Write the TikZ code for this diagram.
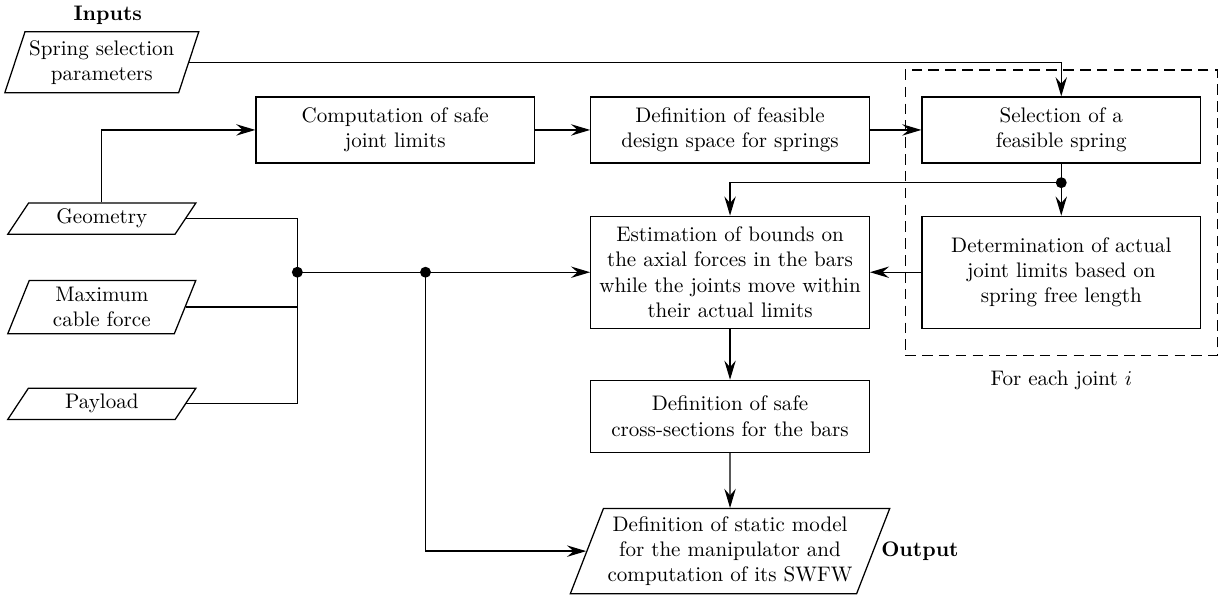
\documentclass[tikz,border=0pt]{standalone}
\usetikzlibrary{arrows.meta, positioning, fit, shapes.geometric, calc}
\tikzset{
  blk/.style={rectangle, draw, semithick, minimum width=4.65cm, minimum height=1.1cm, align=center},
  iobox/.style={trapezium, draw, semithick, trapezium left angle=#1, trapezium right angle={180-#1},
    trapezium stretches body=true, minimum width=3.14cm, align=center, inner xsep=2pt, inner ysep=2pt},
  loopbox/.style={draw, dash pattern=on 5pt off 3pt, semithick},
  dotmark/.style={fill=black},
  arr/.style={-{Stealth[length=3.2mm, width=1.9mm, inset=1.1mm]}, semithick},
  conn/.style={semithick},
}
\begin{document}
\begin{tikzpicture}
    \useasboundingbox (0,0) rectangle (20.39,-10.0);
    % inputs
    \node[iobox=69, minimum height=1.02cm] (springpar) at (1.70,-1.04) {Spring selection\\parameters};
    \node[font=\bfseries, above=-0.02cm of springpar, xshift=0.1cm] (inputs) {Inputs};
    \node[iobox=53, minimum height=0.52cm, below=1.82cm of springpar] (geom) {Geometry};
    \node[iobox=66, minimum height=0.89cm, below=0.75cm of geom] (cable) {Maximum\\cable force};
    \node[iobox=53, minimum height=0.52cm, below=0.89cm of cable] (payload) {Payload};

    % main chain
    \node[blk] (safelim) at (6.60,-2.17) {Computation of safe\\joint limits};
    \node[blk, right=0.92cm of safelim] (design) {Definition of feasible\\design space for springs};
    \node[blk, right=0.86cm of design] (select) {Selection of a\\feasible spring};
    \node[blk, minimum height=1.87cm, below=0.87cm of select] (actual) {Determination of actual\\joint limits based on\\spring free length};
    \node[blk, minimum height=1.87cm] (bounds) at (design|-actual) {Estimation of bounds on\\the axial forces in the bars\\while the joints move within\\their actual limits};
    \node[blk, minimum height=1.2cm, below=0.85cm of bounds] (cross) {Definition of safe\\cross-sections for the bars};
    \node[iobox=67, minimum width=5.21cm, minimum height=1.42cm, below=0.92cm of cross] (model) {Definition of static model\\for the manipulator and\\computation of its SWFW};
    \node[font=\bfseries, right=0cm of model] (outlbl) {Output};

    % loop over joints
    \node[loopbox, fit=(select)(actual), inner xsep=0.27cm, inner ysep=0.44cm] (loop) {};
    \node[below=0.12cm of loop] (looplbl) {For each joint $i$};

    % connectors
    \coordinate (busjoin) at ($(bounds.west)+(-4.89,0)$);
    \coordinate (modelsplit) at ($(bounds.west)+(-2.75,0)$);
    \coordinate (springsplit) at ($(select.south)+(0,-0.32)$);
    \draw[arr] (geom.north) |- (safelim.west);
    \draw[conn] (geom.east) -| (busjoin);
    \draw[conn] (cable.east) -| (busjoin);
    \draw[conn] (payload.east) -| (busjoin);
    \draw[arr] (busjoin) -- (bounds.west);
    \draw[arr] (modelsplit) |- (model.west);
    \draw[arr] (safelim) -- (design);
    \draw[arr] (design) -- (select);
    \draw[arr] (springpar.east) -| (select.north);
    \draw[conn] (select.south) -- (springsplit);
    \draw[arr] (springsplit) -- (actual.north);
    \draw[arr] (springsplit) -| (bounds.north);
    \draw[arr] (actual) -- (bounds);
    \draw[arr] (bounds) -- (cross);
    \draw[arr] (cross) -- (model);
    \fill[dotmark] (busjoin) circle (2.6pt);
    \fill[dotmark] (modelsplit) circle (2.6pt);
    \fill[dotmark] (springsplit) circle (2.6pt);
\end{tikzpicture}
\end{document}
